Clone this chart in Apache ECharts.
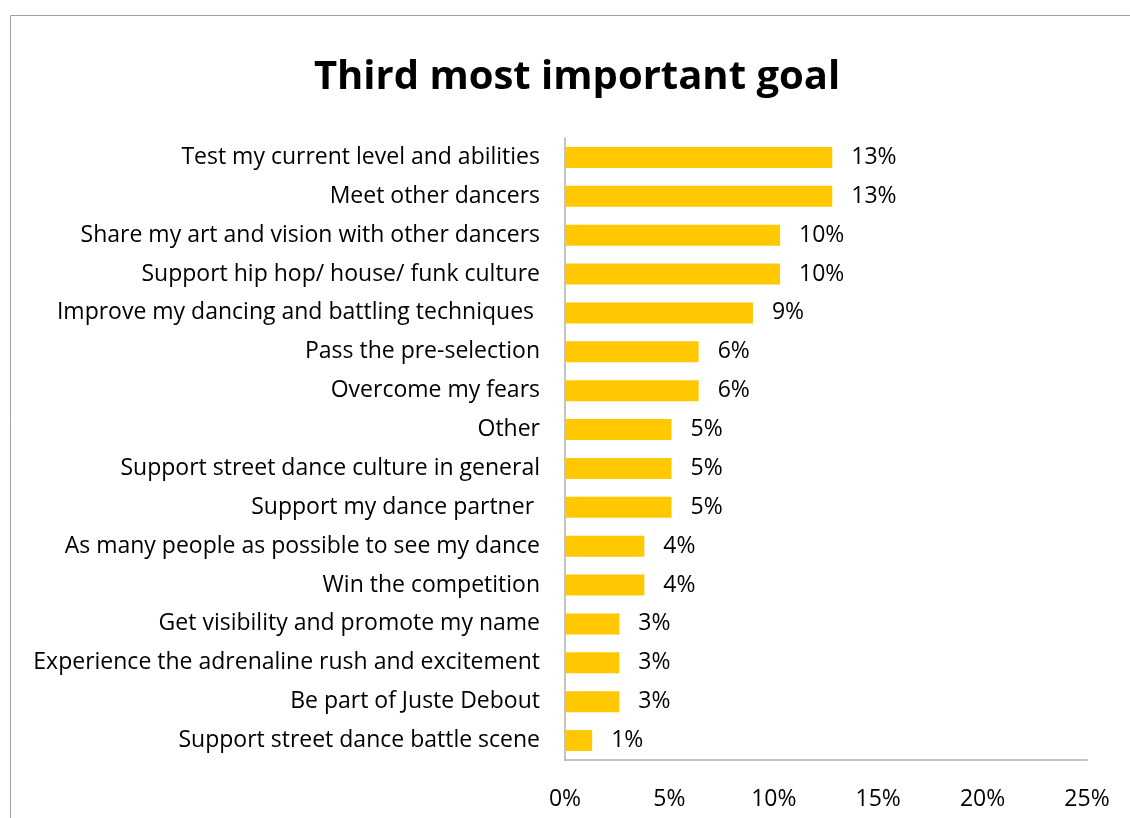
<!DOCTYPE html>
<html>
<head>
<meta charset="utf-8">
<style>
  html, body { margin: 0; padding: 0; background: #fff; }
  #chart { width: 1130px; height: 818px; }
</style>
<script src="https://cdn.jsdelivr.net/npm/echarts@6/dist/echarts.min.js"></script>
</head>
<body>
<div id="chart"></div>
<script>
// Survey answers, top to bottom
const categories = [
  'Test my current level and abilities',
  'Meet other dancers',
  'Share my art and vision with other dancers',
  'Support hip hop/ house/ funk culture',
  'Improve my dancing and battling techniques ',
  'Pass the pre-selection',
  'Overcome my fears',
  'Other',
  'Support street dance culture in general',
  'Support my dance partner ',
  'As many people as possible to see my dance',
  'Win the competition',
  'Get visibility and promote my name',
  'Experience the adrenaline rush and excitement',
  'Be part of Juste Debout',
  'Support street dance battle scene'
];
// Share of respondents (%)
const shares = [12.8, 12.8, 10.3, 10.3, 9.0, 6.4, 6.4, 5.1, 5.1, 5.1, 3.8, 3.8, 2.6, 2.6, 2.6, 1.3];
const xTicks = [0, 5, 10, 15, 20, 25];

const FONT = '"Open Sans", Lato, sans-serif';
const chart = echarts.init(document.getElementById('chart'));
chart.setOption({
  animation: false,
  backgroundColor: '#ffffff',
  title: {
    text: 'Third most important goal',
    left: 572,
    textAlign: 'center',
    top: 53,
    textStyle: { fontFamily: FONT, fontSize: 40, fontWeight: 'bold', color: '#000' }
  },
  graphic: [{
    type: 'rect',
    shape: { x: 10.5, y: 15.5, width: 1200, height: 900 },
    style: { fill: 'none', stroke: '#a0a0a0', lineWidth: 1 },
    silent: true
  }],
  grid: { left: 565, right: 43, top: 138, bottom: 58, containLabel: false },
  xAxis: {
    type: 'value',
    min: xTicks[0],
    max: xTicks[xTicks.length - 1],
    interval: 5,
    axisLine: { show: true, lineStyle: { color: '#b0b0b0', width: 1.5 } },
    axisTick: { show: false },
    splitLine: { show: false },
    axisLabel: {
      margin: 28,
      formatter: v => v + '%',
      fontFamily: FONT, fontSize: 23, color: '#000'
    }
  },
  yAxis: {
    type: 'category',
    data: categories,
    inverse: true,
    axisLine: { show: true, lineStyle: { color: '#b0b0b0', width: 1.5 } },
    axisTick: { show: false },
    axisLabel: {
      margin: 25,
      padding: [4, 0, 0, 0],
      fontFamily: FONT, fontSize: 23, color: '#000'
    }
  },
  series: [{
    type: 'bar',
    data: shares,
    barWidth: 21,
    itemStyle: { color: '#FFC800' },
    label: {
      show: true,
      position: 'right',
      distance: 19,
      padding: [4, 0, 0, 0],
      formatter: p => Math.round(p.value) + '%',
      fontFamily: FONT, fontSize: 23, color: '#000'
    }
  }]
});
</script>
</body>
</html>
